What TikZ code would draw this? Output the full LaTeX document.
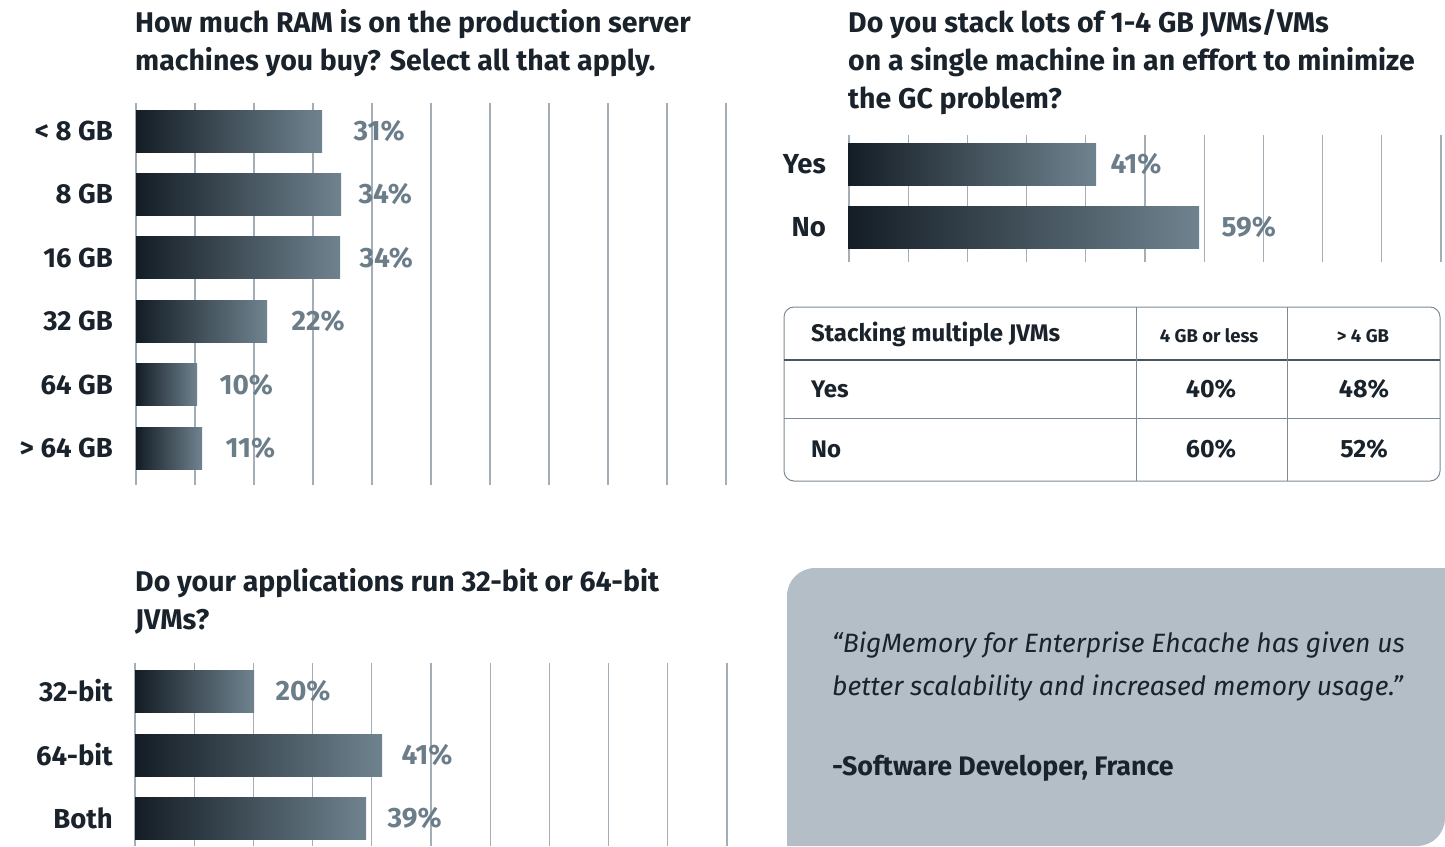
\documentclass[tikz,border=0pt]{standalone}
\usepackage{fontspec}
\setmainfont{Fira Sans}
\usepackage{tikz}
\usetikzlibrary{positioning}
\definecolor{inkdark}{HTML}{1A232B}
\definecolor{pctgrey}{HTML}{6B7D89}
\definecolor{gridgrey}{HTML}{A3AEB7}
\definecolor{bardark}{HTML}{141D25}
\definecolor{barlight}{HTML}{6F838F}
\definecolor{quotefill}{HTML}{B3BEC7}
\definecolor{tabgrey}{HTML}{7D8A95}
\definecolor{tabdark}{HTML}{4A5560}

\begin{document}
\begin{tikzpicture}[
  x=1pt,y=-1pt,
  font=\bfseries\fontsize{27.5}{32}\selectfont,
  bar/.style={minimum height=42pt,inner sep=0pt,left color=bardark,right color=barlight,anchor=west},
  lbl/.style={inner sep=0pt,text=inkdark},
  pct/.style={inner sep=0pt,text=pctgrey,font=\bfseries\fontsize{28}{32}\selectfont},
  qtitle/.style={anchor=north west,align=left,inner sep=0pt,text=inkdark,font=\bfseries\fontsize{28.5}{38}\selectfont},
  gridline/.style={gridgrey,line width=1.3pt},
  tabline/.style={tabgrey,line width=1pt},
  cell/.style={inner sep=0pt,text=inkdark,font=\bfseries\fontsize{24}{28}\selectfont},
  node distance=22pt,
]
\useasboundingbox (0,0) rectangle (1445,846);

% RAM chart
\node[qtitle] (ramt) at (135,9) {How much RAM is on the production server\\machines you buy? Select all that apply.};
\foreach \i in {0,...,10} \draw[gridline] (136+59*\i,103) -- (136+59*\i,485);
\node[bar,minimum width=186pt] (ram1) at (136,131) {};
\node[bar,minimum width=205pt] (ram2) at (136,194.4) {};
\node[bar,minimum width=204pt] (ram3) at (136,257.8) {};
\node[bar,minimum width=131pt] (ram4) at (136,321.2) {};
\node[bar,minimum width=61pt] (ram5) at (136,384.6) {};
\node[bar,minimum width=66pt] (ram6) at (136,448) {};
\node[lbl,left=23pt of ram1] {< 8 GB};
\node[lbl,left=23pt of ram2] {8 GB};
\node[lbl,left=23pt of ram3] {16 GB};
\node[lbl,left=23pt of ram4] {32 GB};
\node[lbl,left=23pt of ram5] {64 GB};
\node[lbl,left=23pt of ram6] {> 64 GB};
\node[pct,right=31pt of ram1] (ram1p) {31\%};
\node[pct,right=17pt of ram2] (ram2p) {34\%};
\node[pct,right=19pt of ram3] (ram3p) {34\%};
\node[pct,right=24pt of ram4] (ram4p) {22\%};
\node[pct,right=22pt of ram5] (ram5p) {10\%};
\node[pct,right=23pt of ram6] (ram6p) {11\%};

% stacking chart
\node[qtitle] (stkt) at (848,9) {Do you stack lots of 1-4 GB JVMs/VMs\\on a single machine in an effort to minimize\\the GC problem?};
\foreach \i in {0,...,10} \draw[gridline] (849+59.2*\i,135) -- (849+59.2*\i,262);
\node[bar,minimum width=248pt] (stk1) at (848,164) {};
\node[bar,minimum width=351pt] (stk2) at (848,227) {};
\node[lbl,left=22pt of stk1] {Yes};
\node[lbl,left=22pt of stk2] {No};
\node[pct,right=14pt of stk1] (stk1p) {41\%};
\node[pct,right=22pt of stk2] (stk2p) {59\%};

% table
\draw[tabline,rounded corners=10pt] (784,307) rectangle (1440,481);
\draw[tabdark,line width=1.2pt] (784,360) -- (1440,360);
\draw[tabline] (784,418) -- (1440,418);
\draw[tabline] (1136,307) -- (1136,481);
\draw[tabline] (1287,307) -- (1287,481);
\node[cell,anchor=west] (thd) at (811,334) {Stacking multiple JVMs};
\node[cell,font=\bfseries\fontsize{18.5}{22}\selectfont] (thda) at (1209,336) {4 GB or less};
\node[cell,font=\bfseries\fontsize{18.5}{22}\selectfont] (thdb) at (1363,336) {> 4 GB};
\node[cell,anchor=west] (tyes) at (811,389) {Yes};
\node[cell,font=\bfseries\fontsize{25}{28}\selectfont] (tyesa) at (1211,389) {40\%};
\node[cell,font=\bfseries\fontsize{25}{28}\selectfont] (tyesb) at (1364,389) {48\%};
\node[cell,anchor=west] (tno) at (811,449) {No};
\node[cell,font=\bfseries\fontsize{25}{28}\selectfont] (tnoa) at (1211,449) {60\%};
\node[cell,font=\bfseries\fontsize{25}{28}\selectfont] (tnob) at (1364,449) {52\%};

% 32/64-bit chart
\node[qtitle] (bitt) at (135,568) {Do your applications run 32-bit or 64-bit\\JVMs?};
\foreach \i in {0,...,10} \draw[gridline] (135+59.2*\i,663) -- (135+59.2*\i,846);
\node[bar,minimum width=119pt] (bit1) at (135,691) {};
\node[bar,minimum width=247pt] (bit2) at (135,755) {};
\node[bar,minimum width=231pt] (bit3) at (135,818) {};
\node[lbl,left=22pt of bit1] {32-bit};
\node[lbl,left=22pt of bit2] {64-bit};
\node[lbl,left=22pt of bit3] {Both};
\node[pct,right=21pt of bit1] (bit1p) {20\%};
\node[pct,right=19pt of bit2] (bit2p) {41\%};
\node[pct,right=21pt of bit3] (bit3p) {39\%};

% quote
\fill[quotefill] (787,846) -- (787,596) arc[start angle=180,end angle=270,radius=28]
  -- (1445,568) -- (1445,818) arc[start angle=0,end angle=90,radius=28] -- cycle;
\node[anchor=west,align=left,inner sep=0pt,text=inkdark,font=\itshape\fontsize{26.5}{43}\selectfont] (quote) at (832,667)
  {“BigMemory for Enterprise Ehcache has given us\\better scalability and increased memory usage.”};
\node[anchor=west,inner sep=0pt,text=inkdark,font=\bfseries\fontsize{26.8}{30}\selectfont] (qauth) at (832,768) {-Software Developer, France};
\end{tikzpicture}
\end{document}
